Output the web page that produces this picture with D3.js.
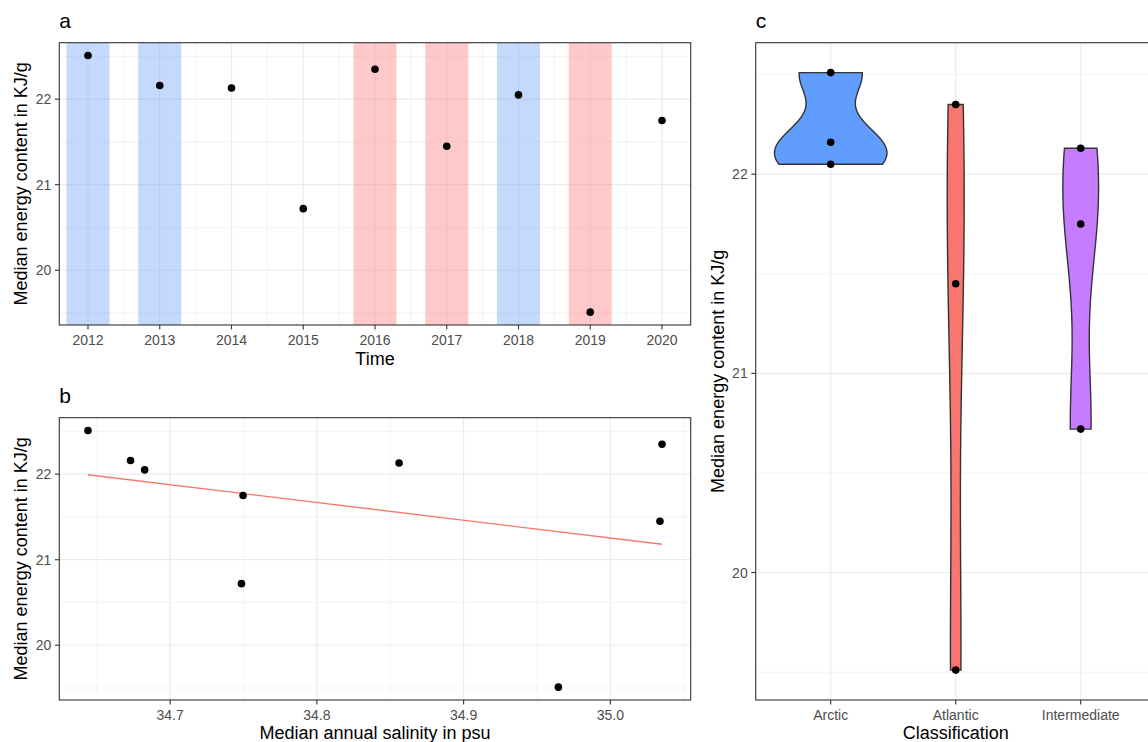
<!DOCTYPE html>
<html>
<head>
<meta charset="utf-8">
<script src="https://cdn.jsdelivr.net/npm/d3@7"></script>
<style>
  body { margin: 0; background: #fff; }
  text { font-family: "Liberation Sans", Arial, sans-serif; }
</style>
</head>
<body>
<svg id="chart" width="1148" height="742"></svg>
<script>
// data
var years = [2012, 2013, 2014, 2015, 2016, 2017, 2018, 2019, 2020];
var energy = [22.51, 22.16, 22.13, 20.72, 22.35, 21.45, 22.05, 19.51, 21.75];
var salinity = [34.644, 34.673, 34.856, 34.7486, 35.0352, 35.0338, 34.6826, 34.9646, 34.7497];
var waterClass = ["Arctic", "Arctic", "Intermediate", "Intermediate", "Atlantic", "Atlantic", "Arctic", "Atlantic", "Intermediate"];

var categories = ["Arctic", "Atlantic", "Intermediate"];
var violinColors = ["#619CFF", "#F8766D", "#C77CFF"];

var energyTicks = [20, 21, 22],
    energyMinor = [19.5, 20.5, 21.5, 22.5],
    yearMinor = [2012.5, 2013.5, 2014.5, 2015.5, 2016.5, 2017.5, 2018.5, 2019.5],
    salTicks = [34.7, 34.8, 34.9, 35.0],
    salMinor = [34.65, 34.75, 34.85, 34.95, 35.05];

//general setup
var svg = d3.select("#chart");
var gridCol = "#EBEBEB",
    borderCol = "#333333",
    tickTextCol = "#4D4D4D";

function expand(ext) {
    var pad = (ext[1] - ext[0]) * 0.05;
    return [ext[0] - pad, ext[1] + pad];
}

var yDomain = expand(d3.extent(energy));

// panel boxes
var pa = { l: 59.3, r: 690.7, t: 42.7, b: 325 },
    pb = { l: 59.3, r: 690.7, t: 417.7, b: 700 },
    pc = { l: 755.7, r: 1155.7, t: 42.7, b: 700 };

function panelBase(p, x, y, xMajor, xMinor, yMajor, yMinor) {
    var g = svg.append("g");
    g.append("rect").attr("x", p.l).attr("y", p.t)
        .attr("width", p.r - p.l).attr("height", p.b - p.t).style("fill", "white");
    g.selectAll(".ymin").data(yMinor).enter().append("line")
        .attr("x1", p.l).attr("x2", p.r).attr("y1", y).attr("y2", y)
        .style("stroke", gridCol).style("stroke-width", 0.6);
    g.selectAll(".xmin").data(xMinor).enter().append("line")
        .attr("y1", p.t).attr("y2", p.b).attr("x1", x).attr("x2", x)
        .style("stroke", gridCol).style("stroke-width", 0.6);
    g.selectAll(".ymaj").data(yMajor).enter().append("line")
        .attr("x1", p.l).attr("x2", p.r).attr("y1", y).attr("y2", y)
        .style("stroke", gridCol).style("stroke-width", 1.2);
    g.selectAll(".xmaj").data(xMajor).enter().append("line")
        .attr("y1", p.t).attr("y2", p.b).attr("x1", x).attr("x2", x)
        .style("stroke", gridCol).style("stroke-width", 1.2);
    return g;
}

function panelFrame(g, p, x, y, xMajor, yMajor, xFmt, yLab, xLab, tag) {
    g.append("rect").attr("x", p.l).attr("y", p.t)
        .attr("width", p.r - p.l).attr("height", p.b - p.t)
        .style("fill", "none").style("stroke", borderCol).style("stroke-width", 1.1);
    // y ticks
    yMajor.forEach(function (v) {
        g.append("line").attr("x1", p.l - 4.4).attr("x2", p.l)
            .attr("y1", y(v)).attr("y2", y(v))
            .style("stroke", borderCol).style("stroke-width", 1.1);
        g.append("text").attr("x", p.l - 8).attr("y", y(v) + 5)
            .attr("text-anchor", "end").style("font-size", "14px")
            .style("fill", tickTextCol).text(v);
    });
    // x ticks
    xMajor.forEach(function (v, i) {
        g.append("line").attr("x1", x(v)).attr("x2", x(v))
            .attr("y1", p.b).attr("y2", p.b + 4.4)
            .style("stroke", borderCol).style("stroke-width", 1.1);
        g.append("text").attr("x", x(v)).attr("y", p.b + 19.5)
            .attr("text-anchor", "middle").style("font-size", "14px")
            .style("fill", tickTextCol).text(xFmt(v, i));
    });
    g.append("text")
        .attr("transform", "translate(" + yLab + "," + ((p.t + p.b) / 2) + ") rotate(-90)")
        .attr("text-anchor", "middle").style("font-size", "18px")
        .text("Median energy content in KJ/g");
    g.append("text").attr("x", (p.l + p.r) / 2).attr("y", Math.min(p.b + 40, 738.5))
        .attr("text-anchor", "middle").style("font-size", "18px")
        .text(xLab);
    g.append("text").attr("x", p.l).attr("y", p.t - 15)
        .style("font-size", "21px").text(tag);
}

// ---- panel a: time series ----
var xa = d3.scaleLinear().domain(expand(d3.extent(years))).range([pa.l, pa.r]),
    ya = d3.scaleLinear().domain(yDomain).range([pa.b, pa.t]);

var ga = panelBase(pa, xa, ya, years, yearMinor, energyTicks, energyMinor);

var shade = { "Arctic": "#6fa0f8", "Atlantic": "#ff7777" };
years.forEach(function (yr, i) {
    if (!shade[waterClass[i]]) return;
    ga.append("rect")
        .attr("x", xa(yr - 0.3)).attr("width", xa(yr + 0.3) - xa(yr - 0.3))
        .attr("y", pa.t).attr("height", pa.b - pa.t)
        .style("fill", shade[waterClass[i]]).style("opacity", 0.4);
});

ga.selectAll(".pt").data(years).enter().append("circle")
    .attr("cx", function (d) { return xa(d); })
    .attr("cy", function (d, i) { return ya(energy[i]); })
    .attr("r", 3.8).style("fill", "black");

panelFrame(ga, pa, xa, ya, years, energyTicks, function (v) { return v; }, 27, "Time", "a");

// ---- panel b: salinity scatter with linear fit ----
var xb = d3.scaleLinear().domain(expand(d3.extent(salinity))).range([pb.l, pb.r]),
    yb = d3.scaleLinear().domain(yDomain).range([pb.b, pb.t]);

var gb = panelBase(pb, xb, yb, salTicks, salMinor, energyTicks, energyMinor);

var mx = d3.mean(salinity), my = d3.mean(energy);
var sxy = d3.sum(salinity, function (s, i) { return (s - mx) * (energy[i] - my); }),
    sxx = d3.sum(salinity, function (s) { return (s - mx) * (s - mx); });
var slope = sxy / sxx, icpt = my - slope * mx;
var fit = d3.extent(salinity).map(function (s) { return [s, icpt + slope * s]; });

gb.append("path").datum(fit)
    .attr("d", d3.line().x(function (d) { return xb(d[0]); }).y(function (d) { return yb(d[1]); }))
    .style("fill", "none").style("stroke", "#F8766D").style("stroke-width", 1.4);

gb.selectAll(".pt").data(salinity).enter().append("circle")
    .attr("cx", function (d) { return xb(d); })
    .attr("cy", function (d, i) { return yb(energy[i]); })
    .attr("r", 3.8).style("fill", "black");

panelFrame(gb, pb, xb, yb, salTicks, energyTicks, function (v) { return v.toFixed(1); }, 27,
    "Median annual salinity in psu", "b");

// ---- panel c: violins by classification ----
var catPos = categories.map(function (c, i) { return i + 1; });
var xc = d3.scaleLinear().domain([0.4, categories.length + 0.6]).range([pc.l, pc.r]),
    yc = d3.scaleLinear().domain(yDomain).range([pc.b, pc.t]);

var gc = panelBase(pc, xc, yc, catPos, [], energyTicks, energyMinor);

function gauss(u) { return Math.exp(-0.5 * u * u) / Math.sqrt(2 * Math.PI); }

var groups = categories.map(function (c) {
    var vals = energy.filter(function (e, i) { return waterClass[i] === c; });
    var sorted = vals.slice().sort(d3.ascending);
    var iqr = d3.quantile(sorted, 0.75) - d3.quantile(sorted, 0.25);
    var bw = 0.9 * Math.min(d3.deviation(vals), iqr / 1.34) * Math.pow(vals.length, -0.2);
    var lo = sorted[0], hi = sorted[sorted.length - 1];
    var dens = d3.range(512).map(function (k) {
        var yv = lo + (hi - lo) * k / 511;
        return { y: yv, d: d3.sum(vals, function (v) { return gauss((yv - v) / bw); }) / (vals.length * bw) };
    });
    return { name: c, vals: vals, dens: dens };
});

var maxD = d3.max(groups, function (g) { return d3.max(g.dens, function (d) { return d.d; }); });
var halfW = d3.scaleLinear().domain([0, maxD]).range([0, 0.45]);

groups.forEach(function (g, i) {
    var cx = i + 1;
    gc.append("path").datum(g.dens)
        .attr("d", d3.area()
            .y(function (d) { return yc(d.y); })
            .x0(function (d) { return xc(cx - halfW(d.d)); })
            .x1(function (d) { return xc(cx + halfW(d.d)); }))
        .style("fill", violinColors[i])
        .style("stroke", borderCol).style("stroke-width", 1.4);
    gc.selectAll(".pt" + i).data(g.vals).enter().append("circle")
        .attr("cx", xc(cx)).attr("cy", function (d) { return yc(d); })
        .attr("r", 3.8).style("fill", "black");
});

panelFrame(gc, pc, xc, yc, catPos, energyTicks, function (v, i) { return categories[i]; }, 723.5,
    "Classification", "c");
</script>
</body>
</html>
